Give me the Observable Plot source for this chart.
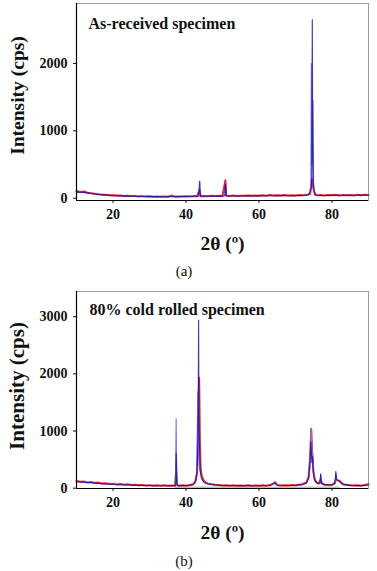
<!DOCTYPE html>
<html>
<head>
<meta charset="utf-8">
<script src="https://cdn.jsdelivr.net/npm/d3@7"></script>
<script src="https://cdn.jsdelivr.net/npm/@observablehq/plot@0.6"></script>
<style>
  html, body { margin: 0; padding: 0; background: #fff; }
  body { width: 377px; height: 571px; overflow: hidden; font-family: "Liberation Serif", serif; }
  .cap { width: 368px; text-align: center; font-family: "Liberation Serif", serif; font-size: 15px; color: #111; }
  #capA { height: 27px; line-height: 27px; }
  #capB { height: 26px; line-height: 32px; }
  svg { display: block; }
  svg text { font-family: "Liberation Serif", serif !important; }
</style>
</head>
<body>
<div id="plotA"></div>
<div id="capA" class="cap">(a)</div>
<div id="plotB"></div>
<div id="capB" class="cap">(b)</div>
<script>
// ---------- Panel (a): As-received specimen ----------
const aTitle = "As-received specimen";
const aYTicks = [0, 1000, 2000];
const xTicks = [20, 40, 60, 80];

const aRedX = [10,11,12,13,14,15,16,17,18,19,20,21,22,23,24,25,26,27,28,29,30,31,32,33,34,35,36,37,38,39,40,41,42,43,43.7,44,45,46,47,48,49,50,50.8,51,52,53,54,55,56,57,58,59,60,61,62,63,64,65,66,67,68,69,70,71,72,73,74,74.5,75,75.5,76,77,78,79,80,81,82,83,84,85,86,87,88,89,90];
const aRedY = [105,92,98,80,72,64,58,52,50,44,42,38,40,33,35,30,32,26,30,24,27,22,25,20,24,21,38,22,26,24,28,25,30,27,120,28,32,28,34,30,35,31,265,36,33,38,32,36,34,40,35,38,36,42,37,45,38,44,40,46,41,44,40,45,42,48,60,280,120,50,42,48,40,45,42,50,40,46,42,48,40,52,44,50,46];

const aNavyX = [10,12,14,16,18,20,22,24,26,28,30,32,34,36,38,40,42,43.5,43.6,43.7,43.8,43.9,44.1,46,48,50,50.6,50.75,50.85,51,52,54,56,58,60,62,64,66,68,70,72,73.5,74,74.3,74.45,74.6,74.72,74.85,75,75.2,75.5,78,80,82,84,86,88,90];
const aNavyY = [90,85,68,55,45,38,34,30,27,25,23,22,21,22,23,25,27,28,150,250,245,60,28,29,30,30,35,210,200,38,31,32,33,34,34,35,36,37,36,37,39,50,100,150,300,2650,900,250,140,60,42,40,41,42,43,44,45,46];

const aLightX = [74.2,74.35,74.5,74.6,74.8,74.95,75.1];
const aLightY = [120,2000,500,700,1450,250,100];

// ---------- Panel (b): 80% cold rolled specimen ----------
const bTitle = "80% cold rolled specimen";
const bYTicks = [0, 1000, 2000, 3000];

const bRedX = [10,11,12,13,14,15,16,17,18,19,20,21,22,23,24,25,26,27,28,29,30,31,32,33,34,35,36,37,37.3,37.5,38,39,40,41,42,42.5,43,43.3,43.6,43.8,44,44.3,44.7,45,45.5,46,47,48,49,50,51,52,53,54,55,56,57,58,59,60,61,62,63,64,64.4,64.8,65,66,67,68,69,70,71,72,73,73.6,74,74.3,74.6,74.9,75.3,75.8,76.3,76.9,77.3,78,79,80,80.7,81.1,81.5,82,82.5,83,84,85,86,87,88,89,90];
const bRedY = [125,112,118,100,108,92,98,82,88,74,80,66,72,60,68,55,62,50,58,48,54,44,52,42,50,44,48,42,300,60,45,50,44,55,70,110,250,900,1930,900,350,220,150,120,95,80,68,60,55,48,52,44,50,42,48,44,50,42,48,44,50,44,55,80,105,70,55,46,52,46,55,50,62,70,100,200,520,1035,600,300,150,100,80,150,80,60,55,60,90,150,140,130,100,70,55,50,46,52,44,55,70];

const bNavyX = [10,12,14,16,18,20,22,24,26,28,30,32,34,36,37,37.2,37.3,37.4,37.5,37.7,39,41,42,42.7,43,43.2,43.35,43.45,43.55,43.7,43.9,44.2,44.6,45,46,48,50,55,60,63,64,64.4,65,68,70,72,73,73.6,74,74.2,74.35,74.5,74.7,74.9,75.3,76,76.7,76.9,77.1,78,80,80.8,81.05,81.3,82,83,85,88,90];
const bNavyY = [115,105,95,85,75,65,60,55,50,47,45,43,42,42,43,100,611,450,90,45,45,50,65,130,300,600,1500,2937,1200,700,300,180,130,100,75,55,48,45,44,48,85,95,52,48,52,65,90,180,500,813,600,450,550,250,130,85,90,250,90,60,58,80,290,150,120,70,50,46,55];

// light-blue peak segments (each peak drawn separately)
const bLightSeg = [1,1,1,1, 2,2,2,2,2, 3,3,3,3,3,3, 4,4,4, 5,5,5];
const bLightX = [37.1,37.3,37.45,37.6, 42.9,43.25,43.4,43.6,44, 73.8,74.1,74.3,74.5,74.7,75, 76.7,76.9,77.1, 80.9,81.05,81.2];
const bLightY = [45,1220,200,45, 250,1686,700,400,250, 250,500,1050,700,600,200, 80,230,80, 90,250,140];

const bBaseX = [37, 82];
const bBaseY = [18, 18];

// ---------- drawing ----------
const RED = "#e22a3c", NAVY = "#1a16a0", LIGHT = "#7a74ee";
const FONT = "'Liberation Serif', serif";

function rows(xs, ys, zs) { return xs.map((x, i) => ({x, y: ys[i], z: zs ? zs[i] : 0})); }

function panel({height, marginTop, marginBottom, yDomain, yTicks, title, titleDx, titleDy, titleSize, yLabDy, yLabSize, xLabDy, traces, extra}) {
  return Plot.plot({
    width: 377, height,
    marginLeft: 76, marginRight: 9, marginTop, marginBottom,
    style: {fontFamily: FONT, background: "#fff", color: "#111"},
    x: {domain: [10, 90]},
    y: {domain: yDomain},
    marks: [
      Plot.frame({stroke: "#9a9a9a", strokeWidth: 1}),
      ...(extra || []),
      Plot.line(rows(traces.red[0], traces.red[1]), {x: "x", y: "y", stroke: RED, strokeWidth: 2}),
      Plot.line(rows(traces.light[0], traces.light[1], traces.light[2]), {x: "x", y: "y", z: "z", stroke: LIGHT, strokeWidth: 1.1}),
      Plot.line(rows(traces.navy[0], traces.navy[1]), {x: "x", y: "y", stroke: NAVY, strokeWidth: 1.1, strokeOpacity: 0.85}),
      Plot.ruleX([10], {stroke: "#000", strokeWidth: 1.2}),
      Plot.ruleY([yDomain[0]], {stroke: "#000", strokeWidth: 1.2}),
      Plot.axisY({ticks: yTicks, tickSize: 3, tickPadding: 6, label: null, fontSize: 14, fontWeight: "bold", tickFormat: d => String(d)}),
      Plot.axisX({ticks: xTicks, tickSize: 3, tickPadding: 6, label: null, fontSize: 14, fontWeight: "bold", tickFormat: d => String(d)}),
      Plot.text([title], {frameAnchor: "top-left", dx: titleDx, dy: titleDy, text: d => d, textAnchor: "start", lineAnchor: "middle", fontSize: titleSize, fontWeight: "bold", fill: "#111"}),
      Plot.text(["Intensity (cps)"], {frameAnchor: "left", dx: -59, dy: yLabDy, text: d => d, rotate: -90, textAnchor: "middle", lineAnchor: "middle", fontSize: yLabSize, fontWeight: "bold", fill: "#111"}),
      Plot.text(["2θ (º)"], {frameAnchor: "bottom", dy: xLabDy, text: d => d, textAnchor: "middle", lineAnchor: "middle", fontSize: 19.5, fontWeight: "bold", fill: "#111"})
    ]
  });
}

document.getElementById("plotA").append(panel({
  height: 258, marginTop: 3, marginBottom: 58,
  yDomain: [-35, 2890], yTicks: aYTicks, title: aTitle, titleDx: 12, titleDy: 20, titleSize: 16,
  yLabDy: -6.5, yLabSize: 19.5, xLabDy: 43,
  traces: {red: [aRedX, aRedY], navy: [aNavyX, aNavyY], light: [aLightX, aLightY, null]}
}));

document.getElementById("plotB").append(panel({
  height: 260, marginTop: 6, marginBottom: 57,
  yDomain: [-5, 3440], yTicks: bYTicks, title: bTitle, titleDx: 13, titleDy: 18, titleSize: 16,
  yLabDy: -4, yLabSize: 21, xLabDy: 44,
  traces: {red: [bRedX, bRedY], navy: [bNavyX, bNavyY], light: [bLightX, bLightY, bLightSeg]},
  extra: [Plot.line(rows(bBaseX, bBaseY), {x: "x", y: "y", stroke: "#6f9a6f", strokeWidth: 0.8})]
}));
</script>
</body>
</html>
